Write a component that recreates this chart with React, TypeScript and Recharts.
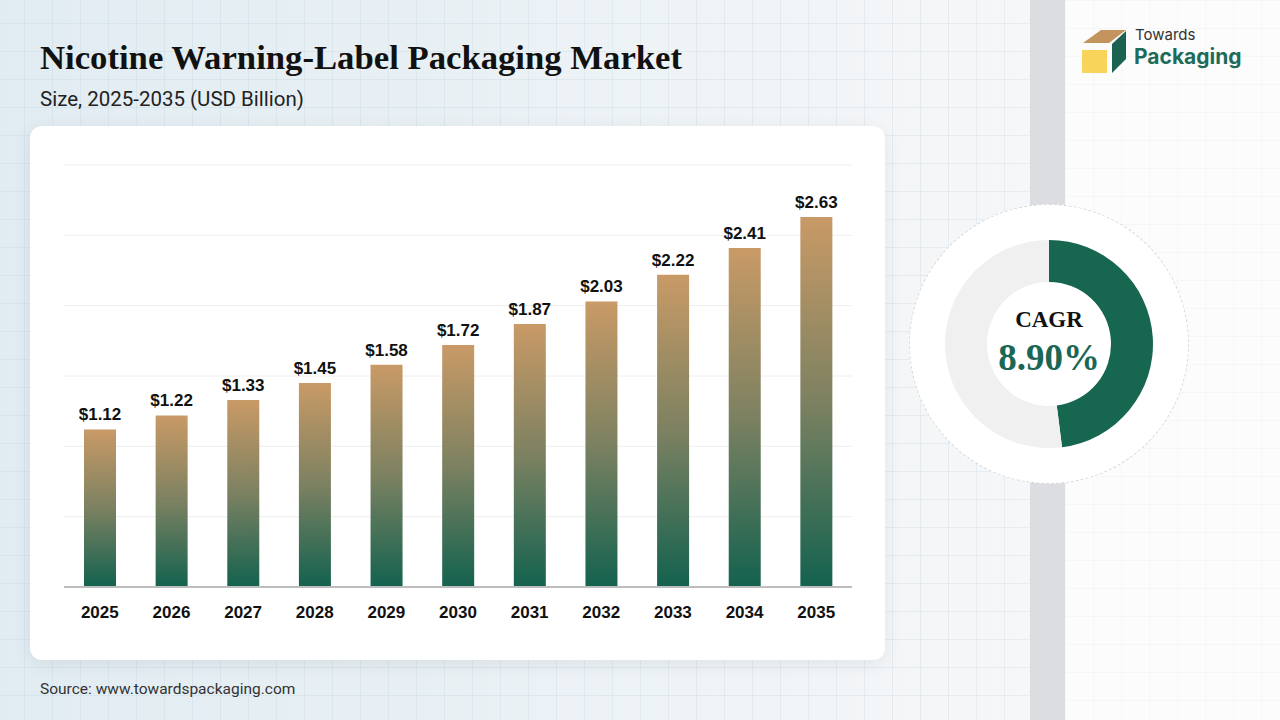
import React from 'react';
import { BarChart, Bar, XAxis, YAxis, CartesianGrid, LabelList, PieChart, Pie, Cell } from 'recharts';

const years = ['2025', '2026', '2027', '2028', '2029', '2030', '2031', '2032', '2033', '2034', '2035'];
const marketSize = [1.12, 1.22, 1.33, 1.45, 1.58, 1.72, 1.87, 2.03, 2.22, 2.41, 2.63];
const yTicks = [0, 0.5, 1, 1.5, 2, 2.5, 3];
const cagrShare = [48, 52];
const cagrColors = ['#17664f', '#f0f0f0'];
const cagrText = '8.90%';

const barData = years.map((y, i) => ({ year: y, value: marketSize[i] }));
const pieData = cagrShare.map((v, i) => ({ name: i === 0 ? 'cagr' : 'rest', value: v }));

const serif = '"Liberation Serif", "Times New Roman", serif';
const sans = '"Liberation Sans", Arial, sans-serif';

export default function App() {
  return (
    <div
      style={{
        position: 'absolute',
        left: 0,
        top: 0,
        width: 1280,
        height: 720,
        overflow: 'hidden',
        background: 'linear-gradient(90deg, #e1ecf2 0%, #e9f0f4 35%, #f2f5f7 65%, #f6f7f9 80%)',
        fontFamily: sans,
      }}
    >
      {/* grid pattern */}
      <div
        style={{
          position: 'absolute',
          inset: 0,
          backgroundImage:
            'linear-gradient(rgba(170,195,210,0.2) 1px, transparent 1px), linear-gradient(90deg, rgba(170,195,210,0.2) 1px, transparent 1px)',
          backgroundSize: '28px 28px',
          backgroundPosition: '-4px -5px',
        }}
      />
      {/* right panel */}
      <div style={{ position: 'absolute', left: 1065, top: 0, width: 215, height: 720, background: '#fcfcfc' }} />
      <div
        style={{
          position: 'absolute',
          left: 1065,
          top: 0,
          width: 215,
          height: 720,
          backgroundImage:
            'linear-gradient(rgba(200,205,210,0.1) 1px, transparent 1px), linear-gradient(90deg, rgba(200,205,210,0.1) 1px, transparent 1px)',
          backgroundSize: '28px 28px',
        }}
      />
      <div style={{ position: 'absolute', left: 1030, top: 0, width: 35, height: 720, background: '#dcdde0' }} />

      {/* title */}
      <div
        style={{
          position: 'absolute',
          left: 40,
          top: 38,
          fontFamily: serif,
          fontWeight: 700,
          fontSize: 34.7,
          lineHeight: '40px',
          color: '#111',
          whiteSpace: 'nowrap',
        }}
      >
        Nicotine Warning-Label Packaging Market
      </div>
      <div
        style={{
          position: 'absolute',
          left: 40,
          top: 86,
          fontFamily: 'Roboto, sans-serif',
          fontSize: 20.5,
          lineHeight: '26px',
          color: '#222',
          whiteSpace: 'nowrap',
        }}
      >
        Size, 2025-2035 (USD Billion)
      </div>

      {/* logo */}
      <svg style={{ position: 'absolute', left: 1078, top: 26 }} width={52} height={52} viewBox="1078 26 52 52">
        <polygon points="1083,43 1101,30 1126,30 1109,43" fill="#c4945f" />
        <polygon points="1112,44 1126,31 1126,59 1112,73" fill="#1b6350" />
        <rect x={1082} y={50} width={25} height={23} fill="#f9d45b" />
      </svg>
      <div
        style={{
          position: 'absolute',
          left: 1135,
          top: 26,
          fontFamily: 'Inter, sans-serif',
          fontSize: 15,
          lineHeight: '18px',
          color: '#333',
        }}
      >
        Towards
      </div>
      <div
        style={{
          position: 'absolute',
          left: 1134,
          top: 44,
          fontFamily: 'Inter, sans-serif',
          fontWeight: 700,
          fontSize: 21,
          lineHeight: '26px',
          color: '#1e6b58',
        }}
      >
        Packaging
      </div>

      {/* chart card */}
      <div
        style={{
          position: 'absolute',
          left: 30,
          top: 126,
          width: 855,
          height: 534,
          background: '#ffffff',
          borderRadius: 12,
          boxShadow: '0 4px 18px rgba(0,0,0,0.07)',
        }}
      >
        <BarChart width={855} height={534} data={barData} margin={{ top: 39, right: 33, left: 34, bottom: 0 }}>
          <defs>
            <linearGradient id="barGrad" x1="0" y1="0" x2="0" y2="1">
              <stop offset="0%" stopColor="#c99a66" />
              <stop offset="50%" stopColor="#7c8161" />
              <stop offset="100%" stopColor="#13624f" />
            </linearGradient>
          </defs>
          <CartesianGrid vertical={false} stroke="#eeeeee" strokeWidth={1} />
          <YAxis hide domain={[0, 3]} ticks={yTicks} />
          <XAxis
            dataKey="year"
            height={73}
            axisLine={{ stroke: '#bdbdbd', strokeWidth: 2 }}
            tickLine={false}
            tickSize={6}
            tickMargin={13}
            interval={0}
            tick={{ fontSize: 17, fontWeight: 700, fill: '#111', fontFamily: sans }}
          />
          <Bar dataKey="value" fill="url(#barGrad)" barSize={32} isAnimationActive={false}>
            <LabelList
              dataKey="value"
              position="top"
              offset={9}
              formatter={(v: any) => `$${Number(v).toFixed(2)}`}
              style={{ fontSize: 17, fontWeight: 700, fill: '#111', fontFamily: sans }}
            />
          </Bar>
        </BarChart>
      </div>

      {/* source */}
      <div
        style={{
          position: 'absolute',
          left: 40,
          top: 679,
          fontSize: 15.5,
          lineHeight: '20px',
          color: '#333',
          fontFamily: 'Roboto, sans-serif',
        }}
      >
        Source: www.towardspackaging.com
      </div>

      {/* CAGR donut */}
      <div
        style={{
          position: 'absolute',
          left: 909,
          top: 204,
          width: 280,
          height: 280,
          boxSizing: 'border-box',
          borderRadius: '50%',
          background: '#ffffff',
          border: '1px dashed #d8d8d8',
        }}
      />
      <div style={{ position: 'absolute', left: 899, top: 194 }}>
        <PieChart width={300} height={300}>
          <Pie
            data={pieData}
            dataKey="value"
            cx={145}
            cy={145}
            innerRadius={62}
            outerRadius={104}
            startAngle={90}
            endAngle={-270}
            stroke="none"
            isAnimationActive={false}
          >
            {pieData.map((d, i) => (
              <Cell key={d.name} fill={cagrColors[i]} />
            ))}
          </Pie>
        </PieChart>
      </div>
      <div
        style={{
          position: 'absolute',
          left: 949,
          top: 305,
          width: 200,
          textAlign: 'center',
          fontFamily: serif,
          fontWeight: 700,
          fontSize: 23,
          lineHeight: '30px',
          color: '#111',
        }}
      >
        CAGR
      </div>
      <div
        style={{
          position: 'absolute',
          left: 949,
          top: 337,
          width: 200,
          textAlign: 'center',
          fontFamily: serif,
          fontWeight: 700,
          fontSize: 37,
          lineHeight: '42px',
          color: '#1a6756',
        }}
      >
        {cagrText}
      </div>
    </div>
  );
}
